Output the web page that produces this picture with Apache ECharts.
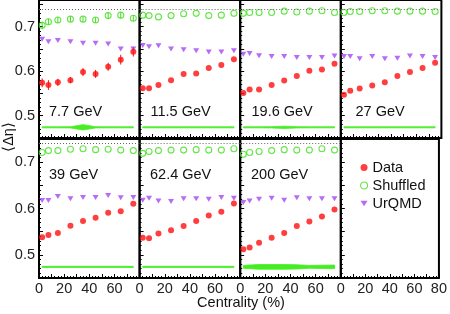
<!DOCTYPE html>
<html><head><meta charset="utf-8">
<script src="https://cdn.jsdelivr.net/npm/echarts@6/dist/echarts.min.js"></script>
<style>html,body{margin:0;padding:0;background:#fff}#c{width:450px;height:314px}</style>
</head><body><div id="c"></div>
<script>
const centrality = [2.5, 7.5, 15, 25, 35, 45, 55, 65, 75];
const energies = ['7.7 GeV', '11.5 GeV', '19.6 GeV', '27 GeV', '39 GeV', '62.4 GeV', '200 GeV'];
const xTickLabels = [0, 20, 40, 60, 80];
const yTickLabels = [0.5, 0.6, 0.7];

const data7p7 = [0.574, 0.569, 0.575, 0.580, 0.598, 0.594, 0.610, 0.626, 0.644];
const dataErr7p7 = [0.010, 0.011, 0.008, 0.007, 0.009, 0.009, 0.009, 0.011, 0.011];
const shuf7p7 = [0.703, 0.711, 0.715, 0.717, 0.717, 0.715, 0.725, 0.726, 0.719];
const shufErr7p7 = [0.008, 0.007, 0.007, 0.006, 0.006, 0.006, 0.007, 0.007, 0.007];
const urqmd7p7 = [0.672, 0.666, 0.669, 0.666, 0.663, 0.663, 0.661, 0.650, 0.650];
const band7p7 = [0.0012, 0.0012, 0.0012, 0.0013, 0.006, 0.0013, 0.0012, 0.0012, 0.0012];

const data11p5 = [0.562, 0.562, 0.569, 0.580, 0.594, 0.595, 0.607, 0.614, 0.627];
const shuf11p5 = [0.726, 0.725, 0.722, 0.725, 0.729, 0.730, 0.725, 0.726, 0.730];
const urqmd11p5 = [0.658, 0.655, 0.657, 0.650, 0.648, 0.646, 0.643, 0.643, 0.646];
const band11p5 = [0.0012, 0.0012, 0.0012, 0.0012, 0.0012, 0.0012, 0.0012, 0.0012, 0.0012];

const data19p6 = [0.551, 0.559, 0.559, 0.569, 0.579, 0.589, 0.601, 0.604, 0.617];
const shuf19p6 = [0.730, 0.732, 0.732, 0.732, 0.735, 0.733, 0.735, 0.736, 0.732];
const urqmd19p6 = [0.638, 0.640, 0.635, 0.633, 0.633, 0.631, 0.631, 0.631, 0.634];
const band19p6 = [0.0012, 0.0012, 0.0012, 0.0014, 0.0025, 0.0014, 0.0012, 0.0012, 0.0012];

const data27 = [0.547, 0.556, 0.561, 0.568, 0.575, 0.589, 0.598, 0.607, 0.619];
const shuf27 = [0.732, 0.734, 0.734, 0.736, 0.736, 0.735, 0.735, 0.735, 0.734];
const urqmd27 = [0.633, 0.633, 0.628, 0.633, 0.628, 0.629, 0.634, 0.633, 0.631];
const band27 = [0.0012, 0.0012, 0.0012, 0.0012, 0.0012, 0.0012, 0.0012, 0.0012, 0.0012];

const data39 = [0.538, 0.543, 0.547, 0.563, 0.573, 0.580, 0.591, 0.594, 0.610];
const shuf39 = [0.721, 0.725, 0.725, 0.728, 0.729, 0.727, 0.728, 0.726, 0.725];
const urqmd39 = [0.617, 0.617, 0.626, 0.621, 0.624, 0.624, 0.628, 0.623, 0.624];
const band39 = [0.0012, 0.0012, 0.0012, 0.0012, 0.0012, 0.0012, 0.0012, 0.0012, 0.0012];

const data62p4 = [0.537, 0.536, 0.546, 0.553, 0.562, 0.573, 0.585, 0.593, 0.611];
const shuf62p4 = [0.719, 0.723, 0.725, 0.726, 0.726, 0.727, 0.726, 0.726, 0.729];
const urqmd62p4 = [0.618, 0.622, 0.616, 0.615, 0.621, 0.621, 0.620, 0.624, 0.622];
const band62p4 = [0.0012, 0.0012, 0.0012, 0.0012, 0.0012, 0.0012, 0.0012, 0.0012, 0.0012];

const data200 = [0.512, 0.516, 0.526, 0.537, 0.547, 0.562, 0.572, 0.583, 0.598];
const shuf200 = [0.717, 0.721, 0.723, 0.725, 0.727, 0.726, 0.726, 0.729, 0.726];
const urqmd200 = [0.613, 0.616, 0.620, 0.622, 0.618, 0.623, 0.621, 0.621, 0.621];
const band200 = [0.003, 0.004, 0.005, 0.005, 0.005, 0.0045, 0.003, 0.0035, 0.004];

const bandCenter = 0.474;
const randomLimit = [0.744, 0.737];   // dotted reference line, per row
const yRange = [[0.45, 0.76], [0.45, 0.75]];

const panels = [
  { label: energies[0], data: data7p7, dataErr: dataErr7p7, shuf: shuf7p7, shufErr: shufErr7p7, urqmd: urqmd7p7, band: band7p7 },
  { label: energies[1], data: data11p5, shuf: shuf11p5, urqmd: urqmd11p5, band: band11p5 },
  { label: energies[2], data: data19p6, shuf: shuf19p6, urqmd: urqmd19p6, band: band19p6 },
  { label: energies[3], data: data27, shuf: shuf27, urqmd: urqmd27, band: band27 },
  { label: energies[4], data: data39, shuf: shuf39, urqmd: urqmd39, band: band39 },
  { label: energies[5], data: data62p4, shuf: shuf62p4, urqmd: urqmd62p4, band: band62p4 },
  { label: energies[6], data: data200, shuf: shuf200, urqmd: urqmd200, band: band200 },
  null
];

const RED = '#ff0f0f', GREEN = '#3ee01c', PURPLE = '#a447f2', BAND = '#44ee22';
const TRI = 'path://M0,0L10,0L5,8Z';
const FONT = 'Liberation Sans, Arial, Helvetica, sans-serif';
const FS = '14.5px ';

const grids = [], xAxes = [], yAxes = [], series = [], graphics = [];
const labelPos = [[49, 112], [150.5, 112], [251.5, 112], [355.5, 112], [49, 174.5], [150, 174.5], [251, 174.5]];

for (let i = 0; i < 8; i++) {
  const r = i < 4 ? 0 : 1, c = i % 4;
  grids.push({ left: 39 + c * 100.6, width: 100.6, top: r ? 139 : -1, height: 139,
    show: true, borderColor: '#000', borderWidth: 2, backgroundColor: 'transparent' });
  xAxes.push({ type: 'value', gridIndex: i, min: 0, max: 80, interval: 10,
    axisLine: { show: false }, splitLine: { show: false },
    axisTick: { show: true, inside: true, length: 4, lineStyle: { color: '#000', width: 1 } },
    minorTick: { show: true, splitNumber: 4, length: 2, lineStyle: { color: '#000', width: 1 } },
    axisLabel: { show: r === 1, fontSize: 14.5, fontFamily: FONT, color: '#222', margin: 3,
      showMaxLabel: c === 3, showMinLabel: true, hideOverlap: false,
      formatter: v => (xTickLabels.indexOf(v) >= 0 && (v !== 80 || c === 3)) ? String(v) : '' } });
  yAxes.push({ type: 'value', gridIndex: i, min: yRange[r][0], max: yRange[r][1], interval: 0.05,
    axisLine: { show: false }, splitLine: { show: false },
    axisTick: { show: true, inside: true, length: 4, lineStyle: { color: '#000', width: 1 } },
    minorTick: { show: true, splitNumber: 5, length: 2, lineStyle: { color: '#000', width: 1 } },
    axisLabel: { show: c === 0, fontSize: 14.5, fontFamily: FONT, color: '#222', margin: 4,
      showMaxLabel: false,
      formatter: v => yTickLabels.some(t => Math.abs(t - v) < 1e-6) ? v.toFixed(1) : '' } });

  const p = panels[i];
  if (!p) continue;
  const ax = { xAxisIndex: i, yAxisIndex: i };

  // acceptance band
  series.push(Object.assign({ type: 'custom', z: 2, silent: true, data: [[centrality[0], bandCenter]],
    renderItem: (params, api) => {
      const up = centrality.map((x, k) => api.coord([x, bandCenter + p.band[k]]));
      const lo = centrality.map((x, k) => api.coord([x, bandCenter - p.band[k]])).reverse();
      return { type: 'polygon', shape: { points: up.concat(lo) },
        style: { fill: BAND, stroke: BAND, lineWidth: 0.8 } };
    } }, ax));

  // error bars
  const errSeries = (vals, errs, color) => Object.assign({ type: 'custom', z: 3, silent: true,
    data: centrality.map((x, k) => [x, vals[k], errs[k]]),
    renderItem: (params, api) => {
      const x = api.value(0), y = api.value(1), e = api.value(2);
      const a = api.coord([x, y - e]), b = api.coord([x, y + e]);
      return { type: 'line', shape: { x1: a[0], y1: a[1], x2: b[0], y2: b[1] }, style: { stroke: color, lineWidth: 1 } };
    } }, ax);
  if (p.dataErr) series.push(errSeries(p.data, p.dataErr, RED));
  if (p.shufErr) series.push(errSeries(p.shuf, p.shufErr, GREEN));

  series.push(Object.assign({ name: 'Shuffled', type: 'scatter', z: 4, symbol: 'circle', symbolSize: 6,
    itemStyle: { color: 'rgba(255,255,255,0)', borderColor: GREEN, borderWidth: 1.1 },
    data: centrality.map((x, k) => [x, p.shuf[k]]),
    markLine: { silent: true, symbol: 'none', label: { show: false }, animation: false,
      lineStyle: { type: [1, 2], color: '#666', width: 1 }, data: [{ yAxis: randomLimit[r] }] } }, ax));
  series.push(Object.assign({ name: 'UrQMD', type: 'scatter', z: 4, symbol: TRI, symbolSize: [6, 5],
    itemStyle: { color: PURPLE }, data: centrality.map((x, k) => [x, p.urqmd[k]]) }, ax));
  series.push(Object.assign({ name: 'Data', type: 'scatter', z: 5, symbol: 'circle', symbolSize: 6,
    itemStyle: { color: RED }, data: centrality.map((x, k) => [x, p.data[k]]) }, ax));

  graphics.push({ type: 'text', x: labelPos[i][0], y: labelPos[i][1], z: 10,
    style: { text: p.label, font: FS + FONT, fill: '#111', verticalAlign: 'middle', align: 'left' } });
}

graphics.push({ type: 'text', x: 241, y: 303, style: { text: 'Centrality (%)', font: FS + FONT, fill: '#111', align: 'center', verticalAlign: 'middle' } });
graphics.push({ type: 'text', x: 9, y: 137, rotation: Math.PI / 2,
  style: { text: '\u27E8\u0394\u03B7\u27E9', font: FS + FONT, fill: '#111', align: 'center', verticalAlign: 'middle' } });

const chart = echarts.init(document.getElementById('c'), null, { renderer: 'canvas' });
chart.setOption({
  animation: false,
  backgroundColor: '#fff',
  grid: grids, xAxis: xAxes, yAxis: yAxes, series: series, graphic: graphics,
  legend: { orient: 'vertical', left: 360, top: 159.5, padding: 0, itemGap: 2, itemWidth: 7, itemHeight: 7,
    itemTextGap: 3, textStyle: { fontSize: 14.5, fontFamily: FONT, color: '#111', lineHeight: 16 },
    data: [ { name: 'Data', icon: 'circle' },
            { name: 'Shuffled', icon: 'circle', itemStyle: { color: '#fff', borderColor: GREEN, borderWidth: 1.1 } },
            { name: 'UrQMD', icon: TRI } ] }
});
</script></body></html>
